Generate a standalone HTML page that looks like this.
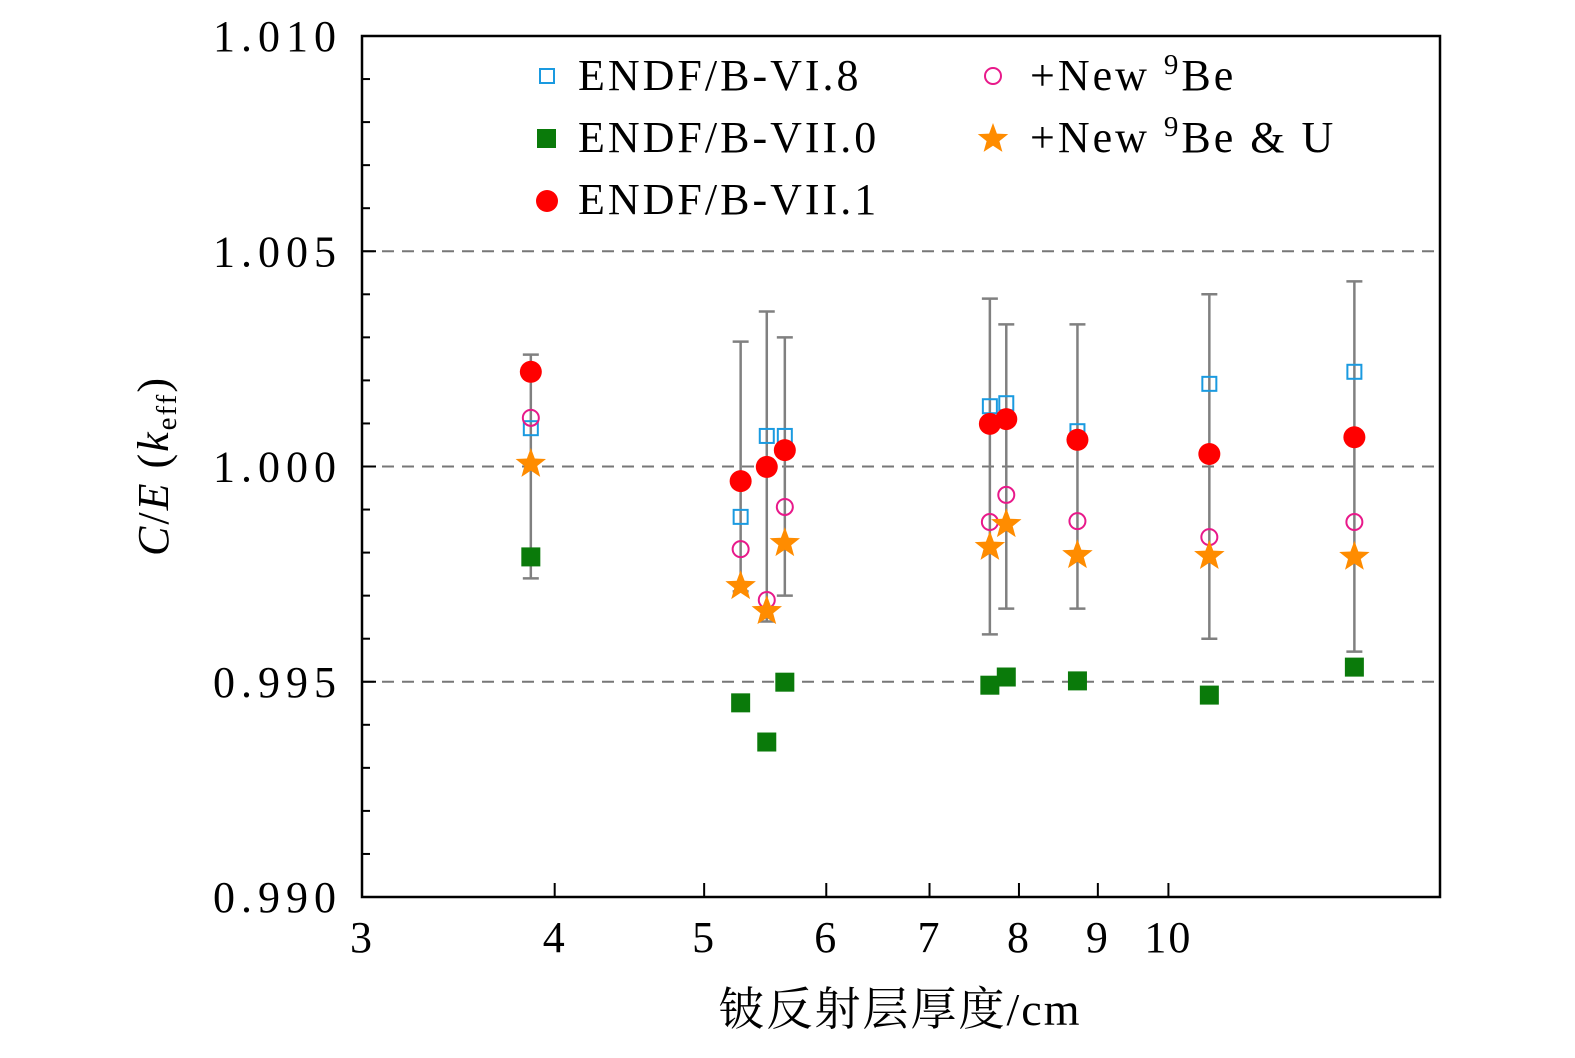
<!DOCTYPE html>
<html><head><meta charset="utf-8"><style>
body{margin:0;background:#fff;}
svg text{font-family:"Liberation Serif","Noto Serif CJK SC",serif;fill:#000;}
</style></head><body>
<svg id="chart" width="1575" height="1053" xmlns="http://www.w3.org/2000/svg">
<g id="grid"></g>
<g id="err"></g>
<g id="marks"></g>
<rect x="362" y="36" width="1078" height="861" fill="none" stroke="#000" stroke-width="2.5"/>
<g id="axes"></g>
<text transform="translate(168,466) rotate(-90)" text-anchor="middle" font-size="44" letter-spacing="2"><tspan font-style="italic">C</tspan>/<tspan font-style="italic">E</tspan> (<tspan font-style="italic">k</tspan><tspan font-size="29" dy="8">eff</tspan><tspan dy="-8">)</tspan></text>
<text x="900" y="1025" text-anchor="middle" font-size="46" letter-spacing="2">铍反射层厚度/cm</text>
<g font-size="44" letter-spacing="3">
<rect x="540" y="69" width="14" height="14" fill="none" stroke="#1a9ae0" stroke-width="2"/>
<text x="578" y="90">ENDF/B-VI.8</text>
<rect x="537" y="129" width="19" height="19" fill="#0a7a0a"/>
<text x="578" y="152">ENDF/B-VII.0</text>
<circle cx="547" cy="201" r="11" fill="#ff0000"/>
<text x="578" y="214">ENDF/B-VII.1</text>
<circle cx="993" cy="76" r="8" fill="none" stroke="#e8198a" stroke-width="2"/>
<text x="1030" y="90">+New <tspan font-size="29" dy="-16">9</tspan><tspan dy="16">Be</tspan></text>
<path d="" id="legstar" fill="#ff8c00"/>
<text x="1030" y="152">+New <tspan font-size="29" dy="-16">9</tspan><tspan dy="16">Be &amp; U</tspan></text>
</g>
</svg>
<script>
const xs=[3.86,5.28,5.49,5.64,7.66,7.85,8.73,10.63,13.2];
const vi8=[1.00089,0.99883,1.00071,1.00071,1.00140,1.00147,1.00082,1.00192,1.00220];
const vii0=[0.99790,0.99451,0.99360,0.99499,0.99492,0.99511,0.99502,0.99469,0.99534];
const vii1=[1.00220,0.99966,0.99999,1.00038,1.00099,1.00110,1.00062,1.00029,1.00068];
const newBe=[1.00113,0.99808,0.99690,0.99906,0.99871,0.99934,0.99873,0.99836,0.99871];
const newBeU=[1.00006,0.99722,0.99664,0.99822,0.99813,0.99866,0.99794,0.99792,0.99790];
const unc=[0.0026,0.0029,0.0036,0.0030,0.0039,0.0033,0.0033,0.0040,0.0043];
const xTicks=[3,4,5,6,7,8,9,10];
const yTicks=[0.990,0.995,1.000,1.005,1.010];
const yTickLabels=["0.990","0.995","1.000","1.005","1.010"];
const NS="http://www.w3.org/2000/svg";
const X=v=>362+(Math.log10(v)-Math.log10(3))/(Math.log10(15)-Math.log10(3))*1078;
const Y=v=>36+(1.010-v)/0.020*861;
function mk(tag,attrs,parent){const e=document.createElementNS(NS,tag);for(const k in attrs)e.setAttribute(k,attrs[k]);parent.appendChild(e);return e;}
const grid=document.getElementById('grid'),err=document.getElementById('err'),marks=document.getElementById('marks'),axes=document.getElementById('axes');
[0.995,1.000,1.005].forEach(v=>{const l=mk('line',{x1:362,x2:1440,y1:Y(v),y2:Y(v),stroke:'#777','stroke-width':2,'stroke-dasharray':'12,8'},grid);

});
for(let i=0;i<=20;i++){const v=0.990+i*0.001;const major=i%5===0;const l=mk('line',{x1:362,x2:362+(major?14:8),y1:Y(v),y2:Y(v),stroke:'#000','stroke-width':2},axes);

}
yTicks.forEach((v,i)=>{const t=mk('text',{x:342,y:Y(v)+15,'text-anchor':'end','font-size':44,'letter-spacing':6},axes);t.textContent=yTickLabels[i];

});
xTicks.forEach(v=>{if(v>3){const l=mk('line',{x1:X(v),x2:X(v),y1:897,y2:883,stroke:'#000','stroke-width':2},axes);

}
const t=mk('text',{x:X(v),y:952,'text-anchor':'middle','font-size':44,'letter-spacing':2},axes);t.textContent=String(v);

});
function star(cx,cy,R){let d='';for(let k=0;k<10;k++){const r=k%2?R*0.42:R;const a=-Math.PI/2+k*Math.PI/5;d+=(k?'L':'M')+(cx+r*Math.cos(a)).toFixed(1)+','+(cy+r*Math.sin(a)).toFixed(1);}return d+'Z';}
document.getElementById('legstar').setAttribute('d',star(993,139,16));
xs.forEach((x,i)=>{const cx=X(x);
const t=Y(1+unc[i]),b=Y(1-unc[i]);
const g=mk('g',{stroke:'#808080','stroke-width':2.5},err);


mk('line',{x1:cx,x2:cx,y1:t,y2:b},g);mk('line',{x1:cx-8,x2:cx+8,y1:t,y2:t},g);mk('line',{x1:cx-8,x2:cx+8,y1:b,y2:b},g);
const a=mk('rect',{x:cx-7,y:Y(vi8[i])-7,width:14,height:14,fill:'none',stroke:'#1a9ae0','stroke-width':2},marks);


const b2=mk('rect',{x:cx-9.5,y:Y(vii0[i])-9.5,width:19,height:19,fill:'#0a7a0a'},marks);


const c=mk('circle',{cx:cx,cy:Y(vii1[i]),r:11,fill:'#ff0000'},marks);


const d=mk('circle',{cx:cx,cy:Y(newBe[i]),r:8,fill:'none',stroke:'#e8198a','stroke-width':2},marks);


const s=mk('path',{d:star(cx,Y(newBeU[i]),16),fill:'#ff8c00'},marks);


});
</script>
</body></html>
